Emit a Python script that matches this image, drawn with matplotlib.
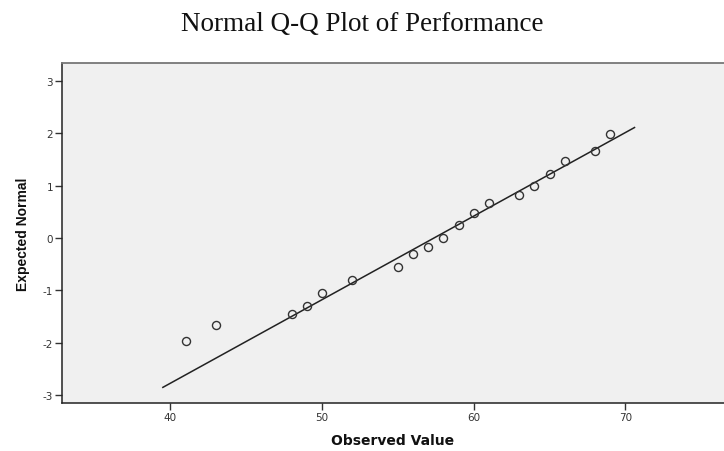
import numpy as np
import matplotlib
matplotlib.use('Agg')
import matplotlib.pyplot as plt

plt.rcParams['axes.unicode_minus'] = False

# observed scores and their expected normal values
observed = [41, 43, 48, 49, 50, 52, 55, 56, 57, 58, 59, 60, 61, 63, 64, 65, 66, 68, 69]
expected = [-1.97, -1.66, -1.45, -1.29, -1.05, -0.81, -0.55, -0.31, -0.18, 0.0,
            0.25, 0.48, 0.66, 0.82, 1.0, 1.23, 1.46, 1.66, 1.98]

# reference line: z = (x - mean) / sd
line_mean = 57.38
line_sd = 6.27
line_x = [39.5, 70.6]

x_ticks = [40, 50, 60, 70]
y_ticks = [-3, -2, -1, 0, 1, 2, 3]

fig = plt.figure(figsize=(7.24, 4.52), dpi=100)
ax = fig.add_axes([62 / 724, 1 - 404 / 452, 1 - 62 / 724, (404 - 64) / 452])
ax.set_facecolor('#f0f0f0')

lx = np.array(line_x)
ax.plot(lx, (lx - line_mean) / line_sd, color='#222222', lw=1.1)
ax.plot(observed, expected, 'o', ms=5.8, mfc='none', mec='#333333', mew=1.0)

ax.set_xlim(32.85, 76.5)
ax.set_ylim(-3.15, 3.34)
ax.set_xticks(x_ticks)
ax.set_yticks(y_ticks)
ax.tick_params(direction='out', length=5, width=1, color='#333333',
               labelsize=7.5, labelcolor='#333333', pad=1.5)

for s in ['left', 'bottom']:
    ax.spines[s].set_color('#222222')
    ax.spines[s].set_linewidth(1.1)
ax.spines['top'].set_color('#777777')
ax.spines['top'].set_linewidth(1.3)
ax.spines['right'].set_visible(False)

ax.set_xlabel('Observed Value', fontsize=10, fontweight='bold', color='#111111', labelpad=8)
ax.set_ylabel('Expected Normal', fontsize=10, fontweight='bold', color='#111111',
              family=['Liberation Sans', 'DejaVu Sans'], labelpad=9)

fig.text(0.5, 1 - 31 / 452, 'Normal Q-Q Plot of Performance', ha='center', va='baseline',
         fontsize=19.5, family=['Liberation Serif', 'DejaVu Serif'], color='#111111')

plt.savefig('out.png', dpi=100)
plt.close('all')
